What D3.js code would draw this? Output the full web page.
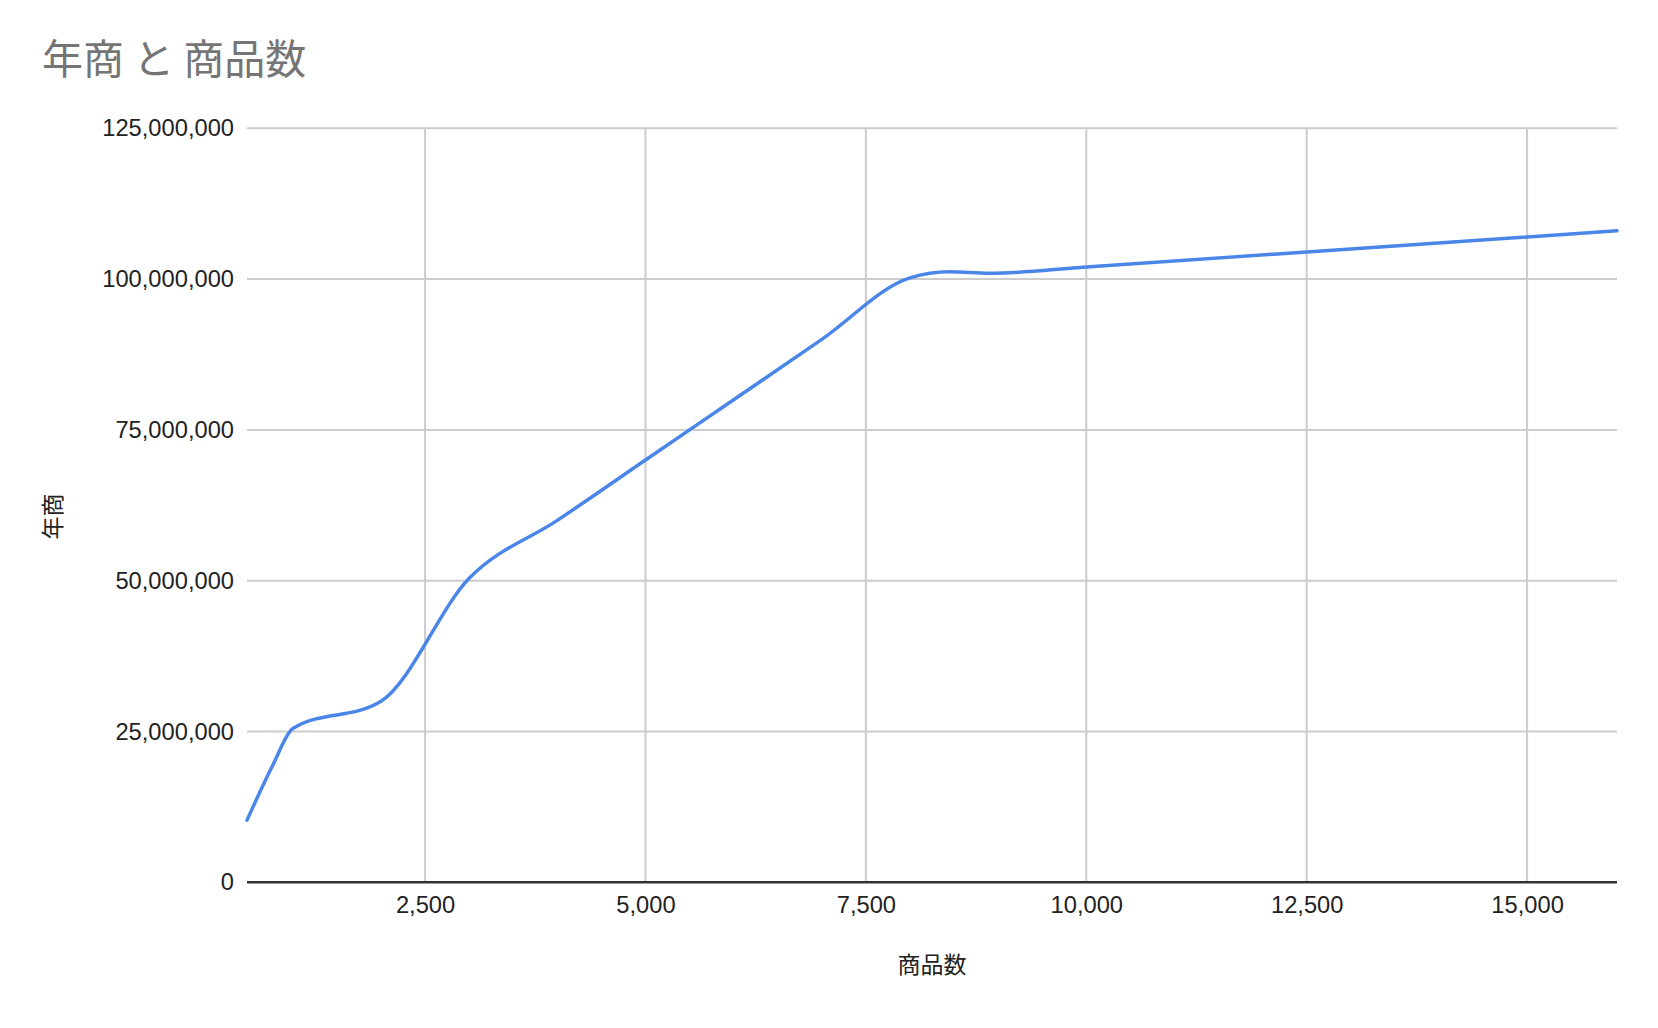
<!DOCTYPE html>
<html>
<head>
<meta charset="utf-8">
<script src="https://cdn.jsdelivr.net/npm/d3@7"></script>
<style>
  body { margin: 0; background: #fff; }
  .tick text { font-family: "Liberation Sans", Arial, sans-serif; font-size: 23.7px; fill: #222; }
  .jp { font-family: "Noto Sans CJK JP", sans-serif; }
</style>
</head>
<body>
<svg width="1658" height="1028"></svg>
<script>

// values
var itemCounts = [480, 775, 1000, 2000, 3000, 4000, 5000, 6000, 7000, 8000, 8450, 8900, 10000, 16020];
var sales = [10300000, 19500000, 25500000, 30000000, 50400000, 60000000, 70000000, 80000000,
             90000000, 100200000, 101200000, 100950000, 102000000, 108000000];

var xTicks = [2500, 5000, 7500, 10000, 12500, 15000];
var yTicks = [0, 25000000, 50000000, 75000000, 100000000, 125000000];

var chartTitle = "年商 と 商品数";
var xLabel = "商品数";
var yLabel = "年商";

var data = itemCounts.map(function(d, i) {
  return {count: d, sales: sales[i]};
});

draw(data);

function draw(data) {

    var svg = d3.select("svg");

    // plot area
    var left = 247, right = 1617, top = 128.3, bottom = 882.3;

    // set scaling x
    var x_scale = d3.scaleLinear()
        .domain(d3.extent(data, function(d) { return d.count; }))
        .range([left, right]);

    // set scaling y
    var y_scale = d3.scaleLinear()
        .domain([0, 125000000])
        .range([bottom, top]);

    // horizontal gridlines
    svg.append("g")
      .selectAll("line")
      .data(yTicks.slice(1))
      .enter()
        .append("line")
        .attr("x1", left)
        .attr("x2", right)
        .attr("y1", function(d) { return y_scale(d); })
        .attr("y2", function(d) { return y_scale(d); })
        .attr("stroke", "#cccccc")
        .attr("stroke-width", 2);

    // vertical gridlines
    svg.append("g")
      .selectAll("line")
      .data(xTicks)
      .enter()
        .append("line")
        .attr("x1", function(d) { return x_scale(d); })
        .attr("x2", function(d) { return x_scale(d); })
        .attr("y1", top)
        .attr("y2", bottom)
        .attr("stroke", "#cccccc")
        .attr("stroke-width", 2);

    // zero line
    svg.append("line")
      .attr("x1", left)
      .attr("x2", right)
      .attr("y1", y_scale(0))
      .attr("y2", y_scale(0))
      .attr("stroke", "#333")
      .attr("stroke-width", 2.5);

    // create y axis
    var yAxis = d3.axisLeft(y_scale)
        .tickValues(yTicks)
        .tickFormat(d3.format(","))
        .tickSize(0)
        .tickPadding(13);

    svg.append("g")
      .attr("transform", "translate(" + left + ",0)")
      .call(yAxis)
      .call(function(g) { g.select(".domain").remove(); })
      .selectAll("text")
        .attr("dy", "0.32em");

    // create x axis
    var xAxis = d3.axisBottom(x_scale)
        .tickValues(xTicks)
        .tickFormat(d3.format(","))
        .tickSize(0)
        .tickPadding(0);

    svg.append("g")
      .attr("transform", "translate(0," + bottom + ")")
      .call(xAxis)
      .call(function(g) { g.select(".domain").remove(); })
      .selectAll("text")
        .attr("y", 31)
        .attr("dy", 0);

    // the line
    var line = d3.line()
        .x(function(d) { return x_scale(d.count); })
        .y(function(d) { return y_scale(d.sales); })
        .curve(d3.curveMonotoneX);

    svg.append("path")
      .datum(data)
      .attr("d", line)
      .attr("fill", "none")
      .attr("stroke", "#4a86e8")
      .attr("stroke-width", 3.5)
      .attr("stroke-linejoin", "round")
      .attr("stroke-linecap", "round");

    // create title
    svg.append("text")
      .attr("class", "jp")
      .attr("x", 42)
      .attr("y", 74)
      .attr("font-size", 41)
      .attr("fill", "#757575")
      .text(chartTitle);

    // create x axis label
    svg.append("text")
      .attr("class", "jp")
      .attr("x", (left + right) / 2)
      .attr("y", 972.5)
      .attr("text-anchor", "middle")
      .attr("font-size", 23)
      .attr("fill", "#222")
      .text(xLabel);

    // create y axis label
    svg.append("text")
      .attr("class", "jp")
      .attr("transform", "translate(60.5,516.5) rotate(-90)")
      .attr("text-anchor", "middle")
      .attr("font-size", 23)
      .attr("fill", "#222")
      .text(yLabel);
}

</script>
</body>
</html>
